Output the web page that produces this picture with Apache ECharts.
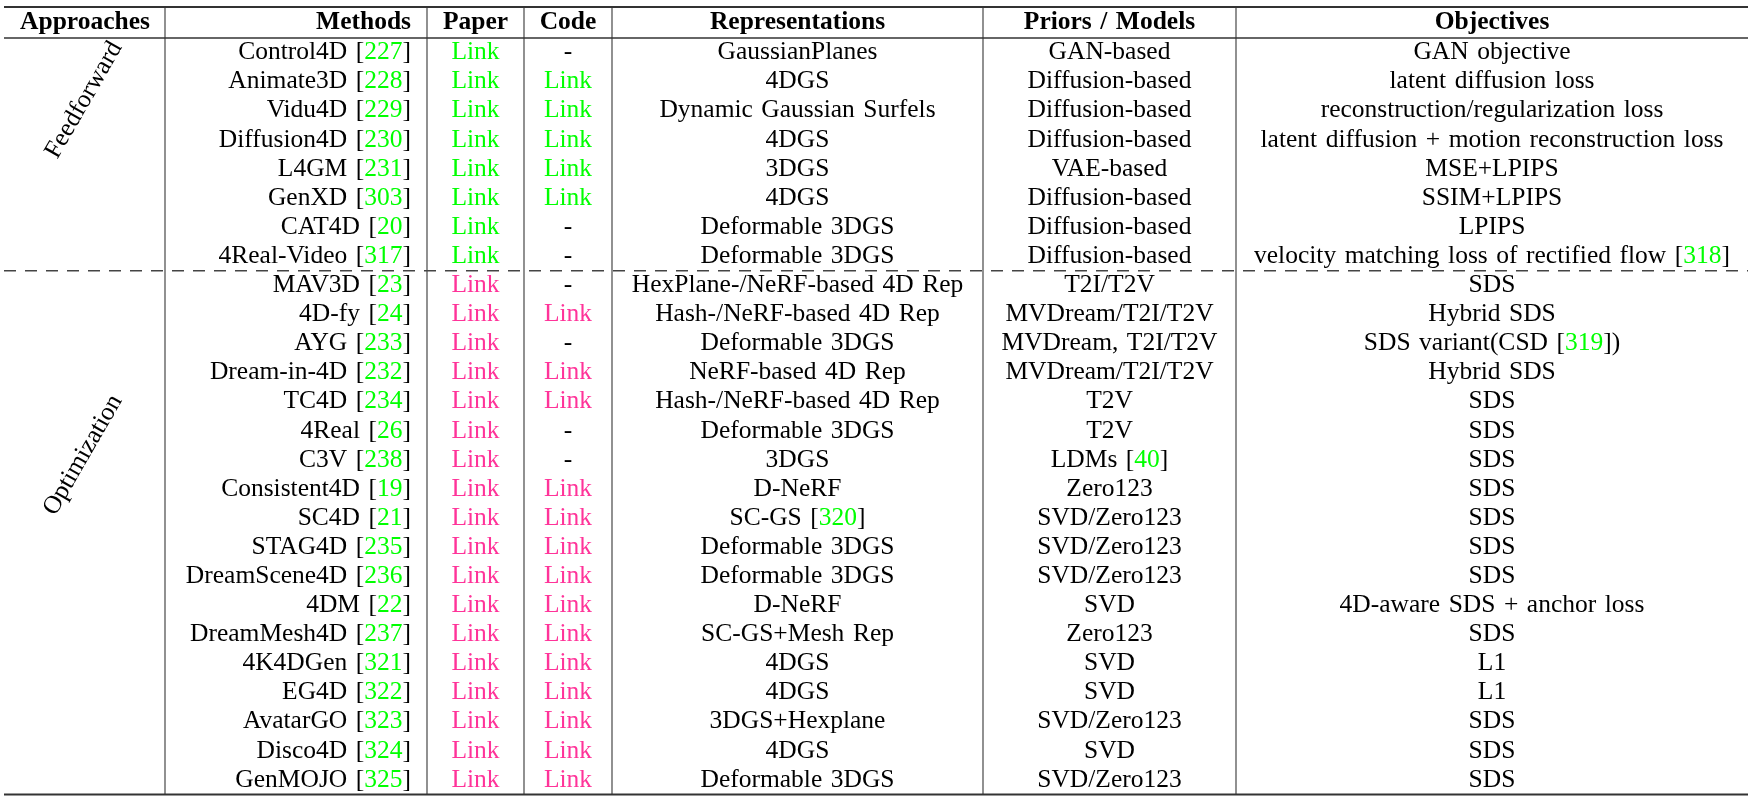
<!DOCTYPE html>
<html>
<head>
<meta charset="utf-8">
<script src="https://cdn.jsdelivr.net/npm/echarts@6/dist/echarts.min.js"></script>
<style>
  html, body { margin: 0; padding: 0; background: #fff; }
  #main { width: 1754px; height: 802px; }
</style>
</head>
<body>
<div id="main"></div>
<script>
// 表头
const headers = ["Approaches", "Methods", "Paper", "Code", "Representations", "Priors / Models", "Objectives"];

// 分组（每组的行数）
const groups = ["Feedforward", "Optimization"];
const groupSizes = [8, 18];

const methods = [
    "Control4D [227]", "Animate3D [228]", "Vidu4D [229]", "Diffusion4D [230]",
    "L4GM [231]", "GenXD [303]", "CAT4D [20]", "4Real-Video [317]",
    "MAV3D [23]", "4D-fy [24]", "AYG [233]", "Dream-in-4D [232]", "TC4D [234]",
    "4Real [26]", "C3V [238]", "Consistent4D [19]", "SC4D [21]", "STAG4D [235]",
    "DreamScene4D [236]", "4DM [22]", "DreamMesh4D [237]", "4K4DGen [321]",
    "EG4D [322]", "AvatarGO [323]", "Disco4D [324]", "GenMOJO [325]"
];
// 1 = Link, 0 = -
const paper = [1, 1, 1, 1, 1, 1, 1, 1, 1, 1, 1, 1, 1, 1, 1, 1, 1, 1, 1, 1, 1, 1, 1, 1, 1, 1];
const code = [0, 1, 1, 1, 1, 1, 0, 0, 0, 1, 0, 1, 1, 0, 0, 1, 1, 1, 1, 1, 1, 1, 1, 1, 1, 1];
const representations = [
    "GaussianPlanes", "4DGS", "Dynamic Gaussian Surfels", "4DGS", "3DGS", "4DGS",
    "Deformable 3DGS", "Deformable 3DGS",
    "HexPlane-/NeRF-based 4D Rep", "Hash-/NeRF-based 4D Rep", "Deformable 3DGS",
    "NeRF-based 4D Rep", "Hash-/NeRF-based 4D Rep", "Deformable 3DGS", "3DGS", "D-NeRF",
    "SC-GS [320]", "Deformable 3DGS", "Deformable 3DGS", "D-NeRF", "SC-GS+Mesh Rep",
    "4DGS", "4DGS", "3DGS+Hexplane", "4DGS", "Deformable 3DGS"
];
const priors = [
    "GAN-based", "Diffusion-based", "Diffusion-based", "Diffusion-based", "VAE-based",
    "Diffusion-based", "Diffusion-based", "Diffusion-based",
    "T2I/T2V", "MVDream/T2I/T2V", "MVDream, T2I/T2V", "MVDream/T2I/T2V", "T2V", "T2V",
    "LDMs [40]", "Zero123", "SVD/Zero123", "SVD/Zero123", "SVD/Zero123", "SVD", "Zero123",
    "SVD", "SVD", "SVD/Zero123", "SVD", "SVD/Zero123"
];
const objectives = [
    "GAN objective", "latent diffusion loss", "reconstruction/regularization loss",
    "latent diffusion + motion reconstruction loss", "MSE+LPIPS", "SSIM+LPIPS", "LPIPS",
    "velocity matching loss of rectified flow [318]",
    "SDS", "Hybrid SDS", "SDS variant(CSD [319])", "Hybrid SDS", "SDS", "SDS", "SDS", "SDS",
    "SDS", "SDS", "SDS", "4D-aware SDS + anchor loss", "SDS", "L1", "L1", "SDS", "SDS", "SDS"
];

// 版式
const W = 1754, H = 802;
const FONT = "'Liberation Serif', 'Times New Roman', serif";
const FS = 25.5;
const GREEN = "#00ff00";
const PINK = "#ff3399";
const LEFT = 4, RIGHT = 1748;
const TOP_RULE = 7, HEAD_RULE = 38, BOT_RULE = 794.5;
const ROW_H = (BOT_RULE - HEAD_RULE) / methods.length;
const colLines = [165, 427, 524, 612, 983, 1236];
// 每列文字的锚点 x 和对齐方式
const colX = [85, 411, 475.5, 568, 797.5, 1109.5, 1492];
const colAlign = ["center", "right", "center", "center", "center", "center", "center"];
// 分组标签的位置
const groupPos = [[84, 100], [83, 455]];

const rich = {
    n: { fill: "#000", fontFamily: FONT, fontSize: FS },
    g: { fill: GREEN, fontFamily: FONT, fontSize: FS }
};

// LaTeX 的词间距比较宽，用 1/3 em 的空格代替
function wide(s) { return s.replace(/ /g, "\u2004"); }

// "[227]" -> 绿色数字，黑色括号
function toRich(s) {
    return wide(s).replace(/\[(\d+)\]/g, "}{n|[}{g|$1}{n|]}{n|")
        .replace(/^/, "{n|").replace(/$/, "}")
        .replace(/\{n\|\}/g, "");
}

function linkCell(has, color) {
    return has ? { text: "Link", fill: color } : { text: "-", fill: "#000" };
}

function rowY(i) { return HEAD_RULE + (i + 0.5) * ROW_H; }

function textEl(api, x, y, style, align) {
    const p = api.coord([x, y]);
    return {
        type: "text",
        x: p[0], y: p[1],
        style: Object.assign({
            fontFamily: FONT, fontSize: FS, fill: "#000",
            align: align, verticalAlign: "middle"
        }, style)
    };
}

function lineEl(api, x1, y1, x2, y2, style) {
    const a = api.coord([x1, y1]), b = api.coord([x2, y2]);
    return {
        type: "line",
        shape: { x1: a[0], y1: a[1], x2: b[0], y2: b[1] },
        style: Object.assign({ stroke: "#333", lineWidth: 1.2 }, style)
    };
}

const chart = echarts.init(document.getElementById("main"));

chart.setOption({
    animation: false,
    grid: { left: 0, right: 0, top: 0, bottom: 0 },
    xAxis: { type: "value", min: 0, max: W, show: false },
    yAxis: { type: "value", min: 0, max: H, inverse: true, show: false },
    series: [
        // 网格线
        {
            type: "custom",
            silent: true,
            data: [[0, 0]],
            renderItem(params, api) {
                const els = [];
                colLines.forEach(x => els.push(lineEl(api, x, TOP_RULE, x, BOT_RULE, { stroke: "#555", lineWidth: 1.3 })));
                els.push(lineEl(api, LEFT, TOP_RULE, RIGHT, TOP_RULE, { lineWidth: 2 }));
                els.push(lineEl(api, LEFT, HEAD_RULE, RIGHT, HEAD_RULE, { lineWidth: 1.6 }));
                els.push(lineEl(api, LEFT, BOT_RULE, RIGHT, BOT_RULE, { lineWidth: 2 }));
                const dashY = HEAD_RULE + groupSizes[0] * ROW_H;
                els.push(lineEl(api, LEFT, dashY, RIGHT, dashY, { stroke: "#444", lineWidth: 1.3, lineDash: [12, 9] }));
                return { type: "group", children: els };
            }
        },
        // 表头
        {
            type: "custom",
            silent: true,
            data: headers.map((_, i) => [i, 0]),
            renderItem(params, api) {
                const i = params.dataIndex;
                return textEl(api, colX[i], (TOP_RULE + HEAD_RULE) / 2,
                    { text: wide(headers[i]), fontWeight: "bold" }, colAlign[i]);
            }
        },
        // 分组标签（斜着写）
        {
            type: "custom",
            silent: true,
            data: groups.map((_, i) => [0, i]),
            renderItem(params, api) {
                const i = params.dataIndex;
                const el = textEl(api, groupPos[i][0], groupPos[i][1], { text: groups[i] }, "center");
                el.rotation = Math.PI / 3;
                return el;
            }
        },
        // 每一行
        {
            type: "custom",
            silent: true,
            data: methods.map((_, i) => [0, i]),
            renderItem(params, api) {
                const i = params.dataIndex;
                const y = rowY(i);
                const linkColor = i < groupSizes[0] ? GREEN : PINK;
                const cells = [
                    { text: toRich(methods[i]), rich: rich },
                    linkCell(paper[i], linkColor),
                    linkCell(code[i], linkColor),
                    { text: toRich(representations[i]), rich: rich },
                    { text: toRich(priors[i]), rich: rich },
                    { text: toRich(objectives[i]), rich: rich }
                ];
                return {
                    type: "group",
                    children: cells.map((c, k) => textEl(api, colX[k + 1], y, c, colAlign[k + 1]))
                };
            }
        }
    ]
});
</script>
</body>
</html>
